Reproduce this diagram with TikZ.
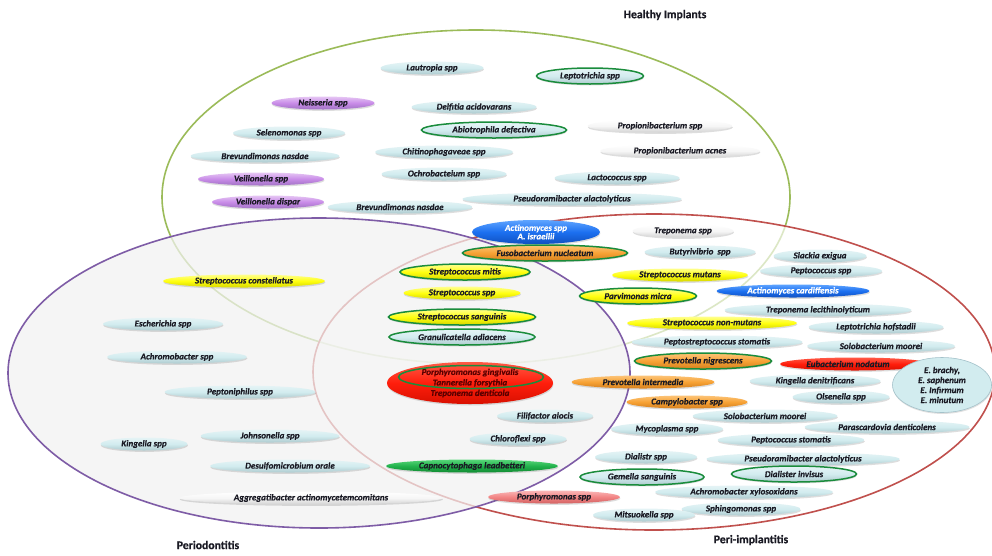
\documentclass[tikz,border=0pt]{standalone}
\usepackage{fontspec}
\usetikzlibrary{shapes.geometric,shadows}
\newfontfamily\spfont[BoldItalicFeatures={FakeBold=0.6},BoldFeatures={FakeBold=0.4}]{Carlito}
\newcommand\spf{\spfont\fontsize{9}{10}\selectfont\bfseries\itshape}
\newcommand\ttlf{\spfont\fontsize{11.7}{13}\selectfont\bfseries}

% colours
\definecolor{txt}{HTML}{1A1A24}
\definecolor{lbT}{HTML}{E6F4F6}
\definecolor{lbM}{HTML}{D2ECEF}
\definecolor{lbB}{HTML}{AECACE}
\definecolor{whT}{HTML}{FFFFFF}
\definecolor{whM}{HTML}{F6F6F6}
\definecolor{whB}{HTML}{D2D2D2}
\definecolor{puT}{HTML}{E6C6F4}
\definecolor{puM}{HTML}{C98CE8}
\definecolor{puB}{HTML}{A072C4}
\definecolor{yeT}{HTML}{FFFF90}
\definecolor{yeM}{HTML}{FFFF10}
\definecolor{yeB}{HTML}{D6D600}
\definecolor{orT}{HTML}{FCC478}
\definecolor{orM}{HTML}{F7A235}
\definecolor{orB}{HTML}{D47F1E}
\definecolor{blT}{HTML}{5EA4FF}
\definecolor{blM}{HTML}{1C70F0}
\definecolor{blB}{HTML}{1050C0}
\definecolor{rdT}{HTML}{FF5A46}
\definecolor{rdM}{HTML}{FF1E0C}
\definecolor{rdB}{HTML}{D81000}
\definecolor{grT}{HTML}{58D67A}
\definecolor{grM}{HTML}{22B24C}
\definecolor{grB}{HTML}{118A32}
\definecolor{pkT}{HTML}{FAB8B8}
\definecolor{pkM}{HTML}{F28484}
\definecolor{pkB}{HTML}{D26262}
\definecolor{ring}{HTML}{1A8C3C}
\definecolor{healthy}{HTML}{9BBB59}
\definecolor{perio}{HTML}{7E5CA6}
\definecolor{periimp}{HTML}{C0504D}
\definecolor{ebOut}{HTML}{A4C2CA}
\definecolor{darkred}{HTML}{5A0000}

\tikzset{
  sp/.style={ellipse, inner sep=0pt, minimum height=13pt, font=\spf, text=txt,
    drop shadow={shadow xshift=0.4pt, shadow yshift=-1.4pt, opacity=.22, fill=black!60}},
  lb/.style={sp, top color=lbT, bottom color=lbB, middle color=lbM},
  wh/.style={sp, top color=whT, bottom color=whB, middle color=whM},
  pu/.style={sp, top color=puT, bottom color=puB, middle color=puM},
  ye/.style={sp, top color=yeT, bottom color=yeB, middle color=yeM},
  or/.style={sp, top color=orT, bottom color=orB, middle color=orM},
  bl/.style={sp, top color=blT, bottom color=blB, middle color=blM, text=white},
  rd/.style={sp, top color=rdT, bottom color=rdB, middle color=rdM},
  gr/.style={sp, top color=grT, bottom color=grB, middle color=grM},
  pk/.style={sp, top color=pkT, bottom color=pkB, middle color=pkM},
  ringed/.style={draw=ring, line width=1.5pt, minimum height=16pt},
  region/.style={line width=1.6pt},
  title/.style={font=\ttlf, text=txt}
}

\begin{document}
\begin{tikzpicture}[x=1pt, y=-1pt]
\useasboundingbox (0,0) rectangle (992,555);
\fill[white] (0,0) rectangle (992,555);

% the three groups
\draw[healthy, region] (476,197) ellipse [x radius=314, y radius=167];
\fill[white, opacity=.65] (654,372) ellipse [x radius=341, y radius=158];
\draw[periimp, region] (654,372) ellipse [x radius=341, y radius=158];
\fill[black!5, opacity=.72] (319,373) ellipse [x radius=311, y radius=155];
\draw[perio, region] (319,373) ellipse [x radius=311, y radius=155];

% group titles
\node[title] (tH) at (665,15) {Healthy Implants};
\node[title] (tP) at (208,545) {Periodontitis};
\node[title] (tI) at (751,540) {Peri-implantitis};

% healthy implants only
\node[lb, minimum width=103pt] (n1) at (432,68) {Lautropia spp};
\node[lb, ringed, minimum width=107pt] (n2) at (590,76) {Leptotrichia spp};
\node[pu, minimum width=103pt] (n3) at (323,103) {Neisseria spp};
\node[lb, minimum width=125pt] (n4) at (474,107) {Delfitia acidovarans};
\node[lb, minimum width=112pt] (n5) at (289,133) {Selenomonas spp};
\node[lb, ringed, minimum width=145pt] (n6) at (494,130) {Abiotrophila defectiva};
\node[wh, minimum width=145pt] (n7) at (660,126) {Propionibacterium spp};
\node[lb, minimum width=149pt] (n8) at (265,156) {Brevundimonas nasdae};
\node[lb, minimum width=138pt] (n9) at (444,152) {Chitinophagaveae spp};
\node[wh, minimum width=160pt] (n10) at (680,151) {Propionibacterium acnes};
\node[pu, minimum width=126pt] (n11) at (261,179) {Veillonella spp};
\node[lb, minimum width=125pt] (n12) at (444,174) {Ochrobacteium spp};
\node[lb, minimum width=125pt] (n13) at (617,178) {Lactococcus spp};
\node[pu, minimum width=112pt] (n14) at (268,202) {Veillonella dispar};
\node[lb, minimum width=145pt] (n15) at (400,207) {Brevundimonas nasdae};
\node[lb, minimum width=219pt] (n16) at (572,199) {Pseudoramibacter alactolyticus};

% shared species
\node[bl, minimum width=128pt, minimum height=24pt, align=center] (n17) at (536,232)
  {Actinomyces spp\\[-1.5pt]A. israellii};
\node[or, ringed, minimum width=165pt] (n18) at (545,253) {Fusobacterium nucleatum};
\node[ye, ringed, minimum width=130pt] (n19) at (465,272) {Streptococcus mitis};
\node[ye, minimum width=117pt] (n20) at (462,293) {Streptococcus spp};
\node[ye, ringed, minimum width=147pt] (n21) at (462,317) {Streptococcus sanguinis};
\node[lb, ringed, minimum width=146pt] (n22) at (462,337) {Granulicatella adiacens};
\node[rd, minimum width=166pt, minimum height=42pt] (n23) at (470,383) {};
\node[draw=ring, line width=1.5pt, ellipse, minimum width=145pt, minimum height=23pt,
  inner sep=0pt] (n23r) at (471,377) {};
\node[font=\spf, text=darkred, align=center, inner sep=0pt]
  (n23t) at (n23) {Porphyromonas gingivalis\\[0.5pt]Tannerella forsythia\\[0.5pt]Treponema denticola};
\node[lb, minimum width=96pt] (n24) at (545,416) {Filifactor alocis};
\node[lb, minimum width=97pt] (n25) at (518,439) {Chloroflexi spp};
\node[gr, minimum width=172pt] (n26) at (472,466) {Capnocytophaga leadbetteri};
\node[pk, minimum width=132pt] (n27) at (554,497) {Porphyromonas spp};

% periodontitis only
\node[ye, minimum width=162pt] (n28) at (244,281) {Streptococcus constellatus};
\node[lb, minimum width=120pt] (n29) at (163,324) {Escherichia spp};
\node[lb, minimum width=140pt] (n30) at (177,357) {Achromobacter spp};
\node[lb, minimum width=151pt] (n31) at (240,392) {Peptoniphilus spp};
\node[lb, minimum width=87pt] (n32) at (144,444) {Kingella spp};
\node[lb, minimum width=139pt] (n33) at (270,436) {Johnsonella spp};
\node[lb, minimum width=160pt] (n34) at (290,466) {Desulfomicrobium orale};
\node[wh, minimum width=263pt] (n35) at (311,498) {Aggregatibacter actinomycetemcomitans};

% peri-implantitis only
\node[wh, minimum width=101pt] (n36) at (683,231) {Treponema spp};
\node[lb, minimum width=111pt] (n37) at (700,252) {Butyrivibrio\ \ spp};
\node[lb, minimum width=93pt] (n38) at (820,256) {Slackia exigua};
\node[lb, minimum width=122pt] (n39) at (821,271) {Peptococcus spp};
\node[ye, minimum width=136pt] (n40) at (680,275) {Streptococcus mutans};
\node[ye, ringed, minimum width=117pt] (n41) at (638,296) {Parvimonas micra};
\node[bl, minimum width=153pt] (n42) at (793,291) {Actinomyces cardiffensis};
\node[lb, minimum width=187pt] (n43) at (818,310) {Treponema lecithinolyticum};
\node[ye, minimum width=170pt] (n44) at (712,323) {Streptococcus non-mutans};
\node[lb, minimum width=135pt] (n45) at (876,327) {Leptotrichia hofstadii};
\node[lb, minimum width=171pt] (n46) at (717,342) {Peptostreptococcus stomatis};
\node[lb, minimum width=148pt] (n47) at (881,346) {Solobacterium moorei};
\node[or, ringed, minimum width=137pt] (n48) at (703,361) {Prevotella nigrescens};
\node[rd, minimum width=150pt] (n49) at (855,364) {\hspace*{-14pt}Eubacterium nodatum};
\node[ellipse, inner sep=0pt, fill=lbM, draw=ebOut, line width=0.6pt,
  minimum width=99pt, minimum height=55pt, font=\spf, text=txt, align=center,
  drop shadow={shadow xshift=0.4pt, shadow yshift=-1.4pt, opacity=.2, fill=black!60}]
  (n50) at (942,385) {E. brachy,\\[0pt]E. saphenum\\[0pt]E. Infirmum\\[0pt]E. minutum};
\node[or, minimum width=143pt] (n51) at (643,382) {Prevotella intermedia};
\node[lb, minimum width=131pt] (n52) at (815,381) {Kingella denitrificans};
\node[or, minimum width=121pt] (n53) at (687,402) {Campylobacter spp};
\node[lb, minimum width=97pt] (n54) at (841,397) {Olsenella spp};
\node[lb, minimum width=145pt] (n55) at (765,416) {Solobacterium moorei};
\node[lb, minimum width=112pt] (n56) at (667,429) {Mycoplasma spp};
\node[lb, minimum width=165pt] (n57) at (887,427) {Parascardovia denticolens};
\node[lb, minimum width=147pt] (n58) at (791,440) {Peptococcus stomatis};
\node[lb, minimum width=102pt] (n59) at (646,457) {Dialistr spp};
\node[lb, minimum width=193pt] (n60) at (803,459) {Pseudoramibacter alactolyticus};
\node[lb, ringed, minimum width=124pt] (n61) at (642,477) {Gemella sanguinis};
\node[lb, ringed, minimum width=125pt] (n62) at (794,474) {Dialister invisus};
\node[lb, minimum width=178pt] (n63) at (744,492) {Achromobacter xylosoxidans};
\node[lb, minimum width=119pt] (n65) at (741,509) {Sphingomonas spp};
\node[lb, minimum width=102pt] (n64) at (644,515) {Mitsuokella spp};
\end{tikzpicture}
\end{document}
